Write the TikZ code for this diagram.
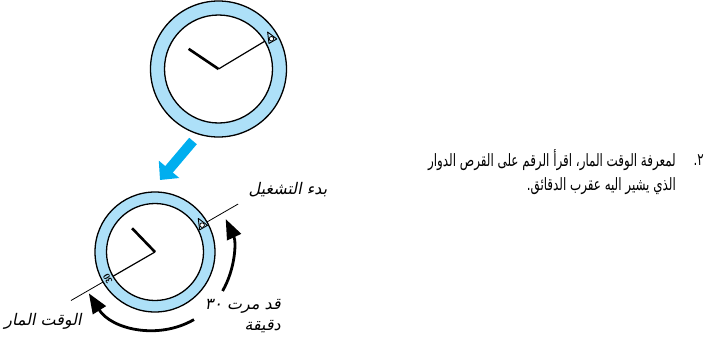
\documentclass[tikz,border=0pt]{standalone}
\usepackage{fontspec}
\newfontfamily\arabicfont[Script=Arabic,FakeStretch=0.7]{DejaVu Sans}
\newfontfamily\arabicslant[Script=Arabic,FakeSlant=0.2]{DejaVu Sans}
\TeXXeTstate=1
\usetikzlibrary{arrows.meta}
\definecolor{bezel}{RGB}{173,224,248}
\definecolor{pointer}{RGB}{0,174,239}

\begin{document}
\begin{tikzpicture}[x=1pt,y=1pt,
  ring/.style={fill=bezel,draw=black,line width=1.3pt,even odd rule},
  turn/.style={line width=2.8pt,-{Triangle[length=20pt,width=15pt]}},
  caption/.style={font=\arabicslant\fontsize{16}{21}\selectfont,inner sep=0pt},
  body/.style={font=\arabicfont\fontsize{17}{20}\selectfont,inner sep=0pt,anchor=east}]
  \useasboundingbox (0,0) rectangle (711,341);

  % both dials: centre x, y / outer r / inner r / hour hand angle, length / minute hand angle / mark r
  \foreach \cx/\cy/\ro/\ri/\ha/\hl/\ma/\mr in {218.5/272/68/54/146/36/31/61,155/89/60/48.5/134/33/210/54.25} {
    \begin{scope}[shift={(\cx,\cy)}]
      \fill[ring] (0,0) circle (\ro) (0,0) circle (\ri);
      \draw[line width=2.6pt] (0,0) -- (\ha:\hl);
      \draw[line width=1.2pt] (0,0) -- (\ma:\ri);
      % index mark on the bezel
      \begin{scope}[shift={(30:\mr)},rotate=30]
        \draw[line width=0.9pt,line join=round] (90:7.5) -- (215:5.5) -- (325:5.5) -- cycle;
        \draw[fill=white,line width=0.8pt] (0,-0.3) circle (2.3);
      \end{scope}
    \end{scope}
  }

  % arrow from the upper dial to the lower one
  \coordinate (from) at (193,200);
  \coordinate (to) at (160,161);
  \draw[pointer,line width=10pt,-{Triangle[length=14pt,width=26pt]}] (from) -- (to);

  % lower dial: reading line and turning arrows
  \coordinate (c2) at (155,89);
  \node[font=\sffamily\bfseries\fontsize{9}{9}\selectfont,rotate=120,inner sep=0pt] (thirty)
    at ([shift={(210:54.5)}]c2) {30};
  \draw[line width=0.8pt] ([shift={(30:60)}]c2) coordinate (a0) -- ([shift={(30:96)}]c2) coordinate (a1);
  \draw[line width=0.8pt] ([shift={(210:60)}]c2) coordinate (b0) -- ([shift={(210:97)}]c2) coordinate (b1);
  \draw[turn] ([shift={(-30:78)}]c2) arc[start angle=-30,end angle=25,radius=78];
  \draw[turn] ([shift={(-60:78)}]c2) arc[start angle=-60,end angle=-148,radius=78];

  \node[caption] (start) at (288,151) {\beginR بدء التشغيل\endR};
  \node[caption] (elapsed) at (43,20) {\beginR الوقت المار\endR};
  \node[caption,anchor=east,align=right] (passed) at (281,25)
    {\beginR قد مرت \beginL٣٠\endL{}\endR\\\beginR دقيقة\endR};

  \node[body] (num) at (704,181) {\beginR ٢.\endR};
  \node[body] (line1) at (676,181) {\beginR لمعرفة الوقت المار، اقرأ الرقم على القرص الدوار\endR};
  \node[body] (line2) at (676,155) {\beginR الذي يشير اليه عقرب الدقائق.\endR};
\end{tikzpicture}
\end{document}
